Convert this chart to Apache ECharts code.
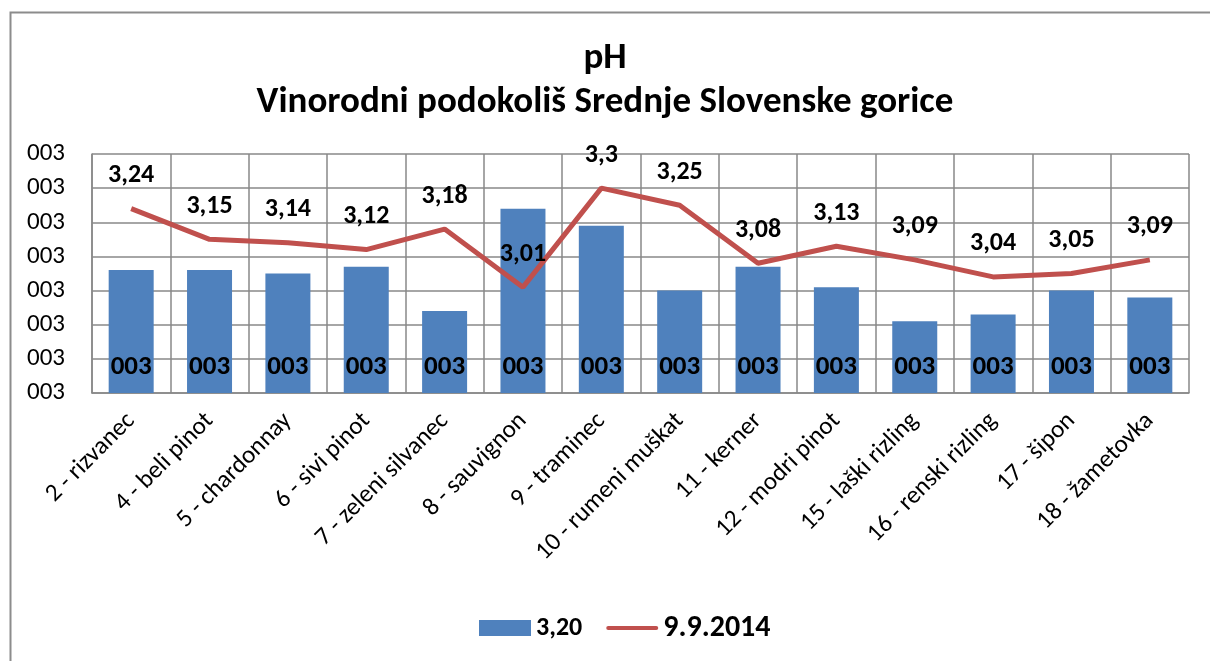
<!DOCTYPE html>
<html>
<head>
<meta charset="utf-8">
<script src="https://cdn.jsdelivr.net/npm/echarts@6/dist/echarts.min.js"></script>
<style>html,body{margin:0;padding:0;background:#fff;}#c{width:1210px;height:661px;}</style>
</head>
<body>
<div id="c"></div>
<script>
const categories = ['2 - rizvanec','4 - beli pinot','5 - chardonnay','6 - sivi pinot','7 - zeleni silvanec','8 - sauvignon','9 - traminec','10 - rumeni muškat','11 - kerner','12 - modri pinot','15 - laški rizling','16 - renski rizling','17 - šipon','18 - žametovka'];
const barValues = [3.06, 3.06, 3.05, 3.07, 2.94, 3.24, 3.19, 3.00, 3.07, 3.01, 2.91, 2.93, 3.00, 2.98];
const lineValues = [3.24, 3.15, 3.14, 3.12, 3.18, 3.01, 3.3, 3.25, 3.08, 3.13, 3.09, 3.04, 3.05, 3.09];
const barName = '3,20';
const lineName = '9.9.2014';
const yTickLabel = '003';
const barLabel = '003';

const FONT = "Carlito, 'Liberation Sans Narrow', 'Open Sans', sans-serif";
const chart = echarts.init(document.getElementById('c'));
chart.setOption({
  animation: false,
  textStyle: { fontFamily: FONT },
  graphic: [{
    type: 'rect', left: 8, top: 10,
    shape: { width: 1230, height: 700 },
    style: { fill: 'none', stroke: '#8c8c8c', lineWidth: 2 }
  }],
  title: {
    text: 'pH\nVinorodni podokoliš Srednje Slovenske gorice',
    left: 'center', top: 32,
    textStyle: { fontFamily: FONT, fontSize: 37, fontWeight: 'bold', color: '#000', lineHeight: 44 }
  },
  legend: {
    top: 608, left: 474,
    itemWidth: 52, itemHeight: 16, itemGap: 24,
    data: [
      { name: barName, icon: 'rect' },
      { name: lineName, icon: 'path://M2,0 L50,0 A2,2 0 0 1 50,4 L2,4 A2,2 0 0 1 2,0 Z', itemStyle: { color: '#C0504D' } }
    ],
    formatter: n => n === lineName ? '{b|' + n + '}' : '{a|' + n + '}',
    textStyle: {
      rich: {
        a: { fontFamily: FONT, fontSize: 26, fontWeight: 'bold', color: '#000' },
        b: { fontFamily: FONT, fontSize: 30, fontWeight: 'bold', color: '#000' }
      }
    }
  },
  grid: { left: 92, right: 21, top: 154, bottom: 268, containLabel: false },
  xAxis: {
    type: 'category', data: categories,
    axisLine: { lineStyle: { color: '#888', width: 1.5 } },
    axisTick: { show: false },
    splitLine: { show: true, lineStyle: { color: '#888', width: 1.5 } },
    axisLabel: { rotate: 45, interval: 0, fontFamily: FONT, fontSize: 25, color: '#000', margin: 24 }
  },
  yAxis: {
    type: 'value', min: 2.7, max: 3.4, interval: 0.1,
    axisLine: { show: true, lineStyle: { color: '#888', width: 1.5 } },
    axisTick: { show: false },
    splitLine: { lineStyle: { color: '#888', width: 1.5 } },
    axisLabel: { formatter: () => yTickLabel, fontFamily: FONT, fontSize: 25, color: '#000', margin: 27 }
  },
  series: [{
    name: barName, type: 'bar', data: barValues,
    barWidth: 45,
    itemStyle: { color: '#4F81BD' },
    label: { show: true, position: 'insideBottom', distance: 12, formatter: () => barLabel,
      fontFamily: FONT, fontSize: 27, fontWeight: 'bold', color: '#000' }
  }, {
    name: lineName, type: 'line', data: lineValues,
    symbol: 'circle', symbolSize: 0, showSymbol: true,
    lineStyle: { color: '#C0504D', width: 5 },
    itemStyle: { color: '#C0504D' },
    label: { show: true, position: 'top', distance: 20, formatter: p => String(p.value).replace('.', ','),
      fontFamily: FONT, fontSize: 26, fontWeight: 'bold', color: '#000' }
  }]
});
</script>
</body>
</html>
